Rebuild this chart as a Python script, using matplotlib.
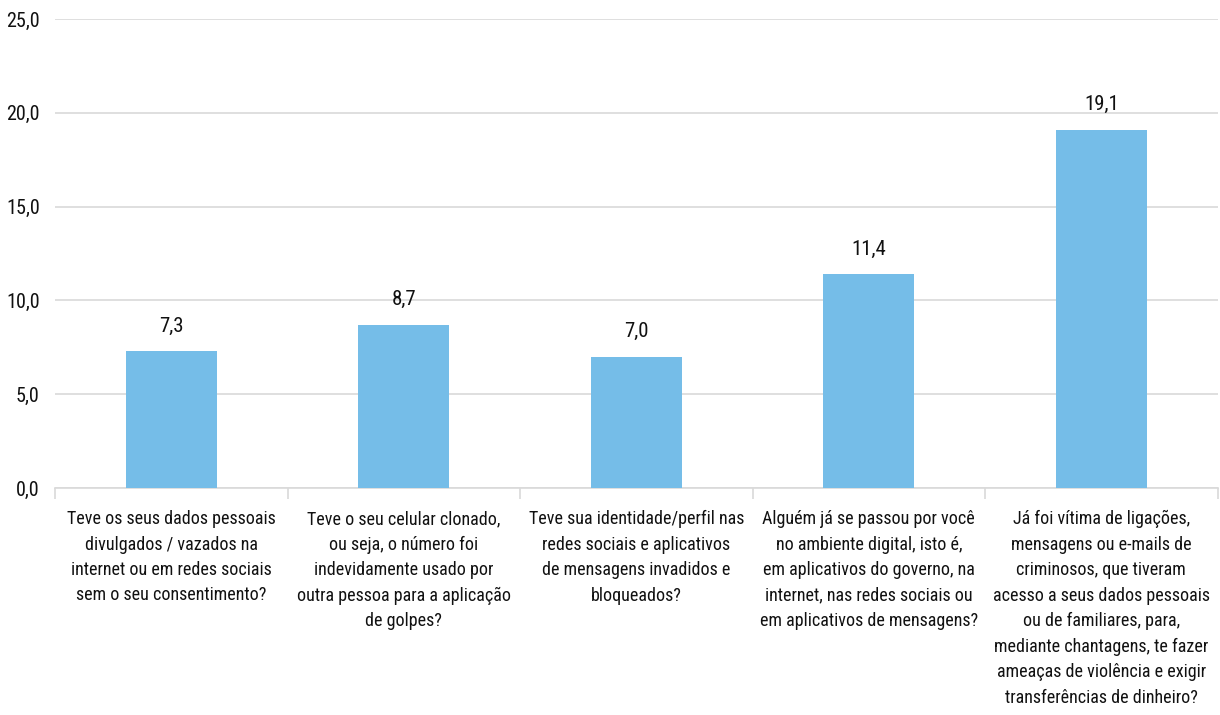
import matplotlib
matplotlib.use("Agg")
import matplotlib.pyplot as plt
from matplotlib import font_manager

categories = [
    "Teve os seus dados pessoais\ndivulgados / vazados na\ninternet ou em redes sociais\nsem o seu consentimento?",
    "Teve o seu celular clonado,\nou seja, o número foi\nindevidamente usado por\noutra pessoa para a aplicação\nde golpes?",
    "Teve sua identidade/perfil nas\nredes sociais e aplicativos\nde mensagens invadidos e\nbloqueados?",
    "Alguém já se passou por você\nno ambiente digital, isto é,\nem aplicativos do governo, na\ninternet, nas redes sociais ou\nem aplicativos de mensagens?",
    "Já foi vítima de ligações,\nmensagens ou e-mails de\ncriminosos, que tiveram\nacesso a seus dados pessoais\nou de familiares, para,\nmediante chantagens, te fazer\nameaças de violência e exigir\ntransferências de dinheiro?",
]
values = [7.3, 8.7, 7.0, 11.4, 19.1]
yticks = [0, 5, 10, 15, 20, 25]

names = {f.name for f in font_manager.fontManager.ttflist}
prefs = ["Roboto Condensed", "Barlow Semi Condensed", "IBM Plex Sans Condensed",
         "Open Sans Condensed", "Liberation Sans Narrow"]
fam = next((p for p in prefs if p in names), "DejaVu Sans")
plt.rcParams['font.family'] = [fam, 'DejaVu Sans']

fig = plt.figure(figsize=(12.2, 7.15), dpi=100)
ax = fig.add_axes([0.0451, 0.3175, 0.9529, 0.656])

x = list(range(len(values)))
ax.bar(x, values, width=0.39, color="#75BDE8", zorder=3)
for xi, v in zip(x, values):
    ax.annotate(f"{v:.1f}".replace(".", ","), (xi, v), xytext=(0, 18),
                textcoords="offset points", ha="center", va="center",
                fontsize=15, color="#111111")

ax.set_xlim(-0.5, len(values) - 0.5)
ax.set_ylim(0, 25)
ax.set_yticks(yticks)
ax.set_yticklabels([f"{t:.1f}".replace(".", ",") for t in yticks], fontsize=14.5, color="#111111")
ax.yaxis.grid(True, color="#D9D9D9", linewidth=1.2, zorder=0)
ax.tick_params(axis="y", length=0, pad=11)

ax.set_xticks(x)
ax.set_xticklabels(categories, fontsize=13, color="#111111", linespacing=1.53)
ax.tick_params(axis="x", which="major", length=0, pad=16)
ax.set_xticks([i + 0.5 for i in range(-1, len(values))], minor=True)
ax.tick_params(axis="x", which="minor", length=8, color="#D9D9D9", width=1.2)

for s in ["left", "right", "top"]:
    ax.spines[s].set_visible(False)
ax.spines["bottom"].set_color("#D9D9D9")
ax.spines["bottom"].set_linewidth(1.2)

fig.savefig("out.png", dpi=100)
